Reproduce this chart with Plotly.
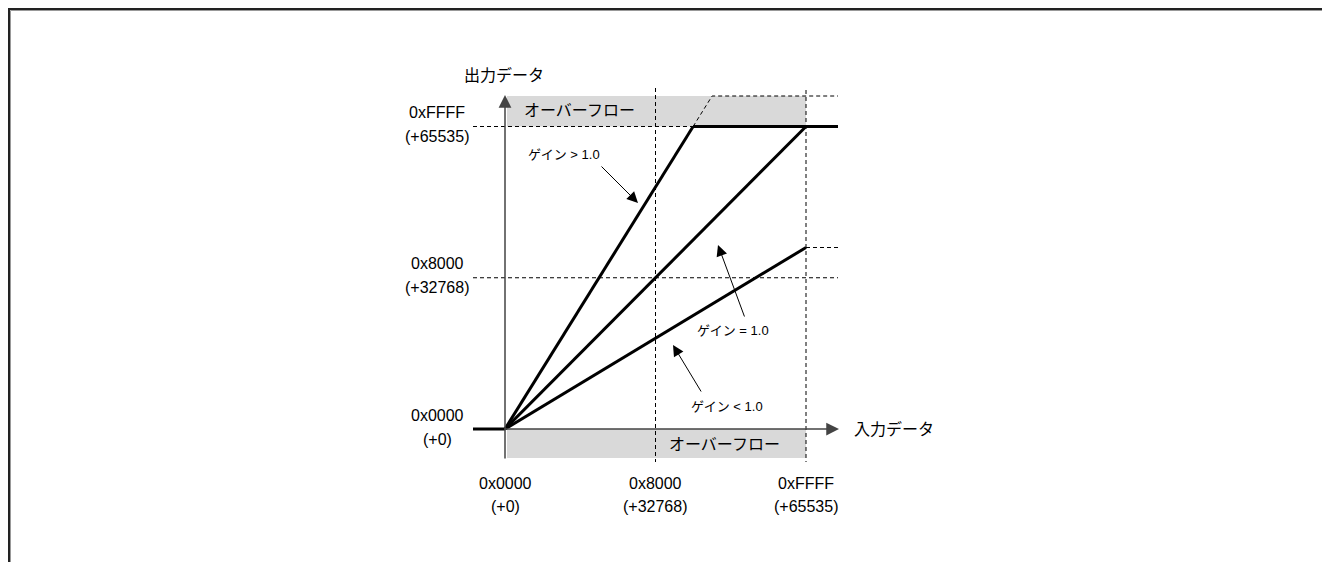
import plotly.graph_objects as go

# 入出力データの値 (16bit)
FULL = 65535
x_ticks = [0, 32768, 65535]
x_tick_top = ["0x0000", "0x8000", "0xFFFF"]
x_tick_bottom = ["(+0)", "(+32768)", "(+65535)"]
y_ticks = [0, 32768, 65535]
y_tick_top = ["0x0000", "0x8000", "0xFFFF"]
y_tick_bottom = ["(+0)", "(+32768)", "(+65535)"]

# ゲイン (> 1.0, = 1.0, < 1.0)
gains = [1.6, 1.0, 0.6]
gain_labels = ["ゲイン > 1.0", "ゲイン = 1.0", "ゲイン < 1.0"]

# 画面座標 -> データ座標 の換算 (原点 505,429 / 0xFFFF = 301px, 302.5px)
X0, Y0, SX, SY = 505.0, 429.0, 301.0, 302.5
W, H = 1330, 562
OFF = 8  # ページの余白


def px(p):
    return (p - X0) / SX * FULL


def py(p):
    return (Y0 - p) / SY * FULL


x_left = px(473)
x_right = px(838)
y_over = py(96)
y_under = py(458)

FONT = "Arial, Liberation Sans, Noto Sans CJK JP, sans-serif"
BLACK = "#000000"

fig = go.Figure()

# オーバーフロー領域
shapes = [
    dict(type="rect", xref="x", yref="y", x0=px(507), x1=FULL, y0=FULL, y1=y_over,
         fillcolor="#d9d9d9", line_width=0, layer="below"),
    dict(type="rect", xref="x", yref="y", x0=px(507), x1=FULL, y0=0, y1=y_under,
         fillcolor="#d9d9d9", line_width=0, layer="below"),
]

# 枠線
shapes.append(dict(type="line", xref="paper", yref="paper", x0=0, x1=1, y0=1 - 1 / H, y1=1 - 1 / H,
                   line=dict(color="#222", width=2)))
shapes.append(dict(type="line", xref="paper", yref="paper", x0=1 / W, x1=1 / W, y0=0, y1=1,
                   line=dict(color="#222", width=2)))
shapes.append(dict(type="line", xref="paper", yref="paper", x0=2.5 / W, x1=1, y0=1 - 2.5 / H, y1=1 - 2.5 / H,
                   line=dict(color="#999", width=1)))
shapes.append(dict(type="line", xref="paper", yref="paper", x0=2.5 / W, x1=2.5 / W, y0=0, y1=1 - 2.5 / H,
                   line=dict(color="#999", width=1)))
fig.update_layout(shapes=shapes)

dash = dict(color=BLACK, width=1, dash="4px,3px")

# 補助線 (破線)
for xv in x_ticks[1:]:
    fig.add_trace(go.Scatter(x=[xv, xv], y=[py(88 if xv < FULL else 90), py(462)], mode="lines",
                             line=dash, hoverinfo="skip"))
for yv in y_ticks[1:]:
    fig.add_trace(go.Scatter(x=[x_left, x_right], y=[yv, yv], mode="lines", line=dash, hoverinfo="skip"))

# ゲイン > 1.0 のはみ出し部分
g_hi = gains[0]
fig.add_trace(go.Scatter(x=[FULL / g_hi, y_over / g_hi, x_right], y=[FULL, y_over, y_over], mode="lines",
                         line=dash, hoverinfo="skip"))
# ゲイン < 1.0 の延長
g_lo = gains[2]
fig.add_trace(go.Scatter(x=[FULL, x_right], y=[FULL * g_lo, FULL * g_lo], mode="lines",
                         line=dash, hoverinfo="skip"))

thick = dict(color=BLACK, width=3)

# 入力 < 0 の部分
fig.add_trace(go.Scatter(x=[x_left, 0], y=[0, 0], mode="lines", line=thick, hoverinfo="skip"))

# 各ゲインの出力
for g in gains:
    xe = min(FULL, FULL / g)
    fig.add_trace(go.Scatter(x=[0, xe], y=[0, xe * g], mode="lines", line=thick, hoverinfo="skip"))

# 飽和 (0xFFFF)
fig.add_trace(go.Scatter(x=[FULL / g_hi, x_right], y=[FULL, FULL], mode="lines", line=thick,
                         hoverinfo="skip"))

ann = []

# 軸 (矢印)
ann.append(dict(x=0, y=py(95), ax=0, ay=py(460), xref="x", yref="y", axref="x", ayref="y",
                text="", showarrow=True, arrowhead=2, arrowsize=1.7, arrowwidth=1.5, arrowcolor="#444"))
ann.append(dict(x=px(839), y=0, ax=px(503), ay=0, xref="x", yref="y", axref="x", ayref="y",
                text="", showarrow=True, arrowhead=2, arrowsize=1.7, arrowwidth=1.5, arrowcolor="#444"))

# ゲインのラベル矢印
arrows = [((600, 165), (638, 203)), ((745, 318), (718, 245)), ((702, 393), (673, 345))]
for (a, t) in arrows:
    ann.append(dict(x=px(t[0]), y=py(t[1]), ax=px(a[0]), ay=py(a[1]), xref="x", yref="y",
                    axref="x", ayref="y", text="", showarrow=True, arrowhead=2, arrowsize=2.2,
                    arrowwidth=1, arrowcolor=BLACK))

label_pos = [(564, 154), (733, 330), (727, 406)]
for lbl, (lx, ly) in zip(gain_labels, label_pos):
    ann.append(dict(x=px(lx), y=py(ly), xref="x", yref="y", text=lbl, showarrow=False,
                    font=dict(size=13, family=FONT, color=BLACK)))

txt = dict(size=16, family=FONT, color=BLACK)

# 軸タイトル / オーバーフロー
ann.append(dict(x=px(504), y=py(75), xref="x", yref="y", text="出力データ", showarrow=False, font=txt))
ann.append(dict(x=px(852), y=0, xref="x", yref="y", text="入力データ", showarrow=False, font=txt,
                xanchor="left"))
ann.append(dict(x=px(522), y=py(110), xref="x", yref="y", text="オーバーフロー", showarrow=False,
                font=txt, xanchor="left"))
ann.append(dict(x=px(667), y=py(444), xref="x", yref="y", text="オーバーフロー", showarrow=False,
                font=txt, xanchor="left"))

# 目盛ラベル
for xv, t1, t2 in zip(x_ticks, x_tick_top, x_tick_bottom):
    ann.append(dict(x=xv, y=py(483), xref="x", yref="y", text=t1, showarrow=False, font=txt))
    ann.append(dict(x=xv, y=py(506), xref="x", yref="y", text=t2, showarrow=False, font=txt))
for yv, t1, t2 in zip(y_ticks, y_tick_top, y_tick_bottom):
    ann.append(dict(x=px(437), y=yv, yshift=14, xref="x", yref="y", text=t1, showarrow=False, font=txt))
    ann.append(dict(x=px(437), y=yv, yshift=-10, xref="x", yref="y", text=t2, showarrow=False, font=txt))

fig.update_layout(
    annotations=ann,
    width=W, height=H,
    margin=dict(l=0, r=0, t=0, b=0),
    paper_bgcolor="white", plot_bgcolor="white",
    showlegend=False,
    xaxis=dict(range=[px(OFF), px(OFF + W)], visible=False, fixedrange=True),
    yaxis=dict(range=[py(OFF + H), py(OFF)], visible=False, fixedrange=True),
)

fig.write_html("out.html")
